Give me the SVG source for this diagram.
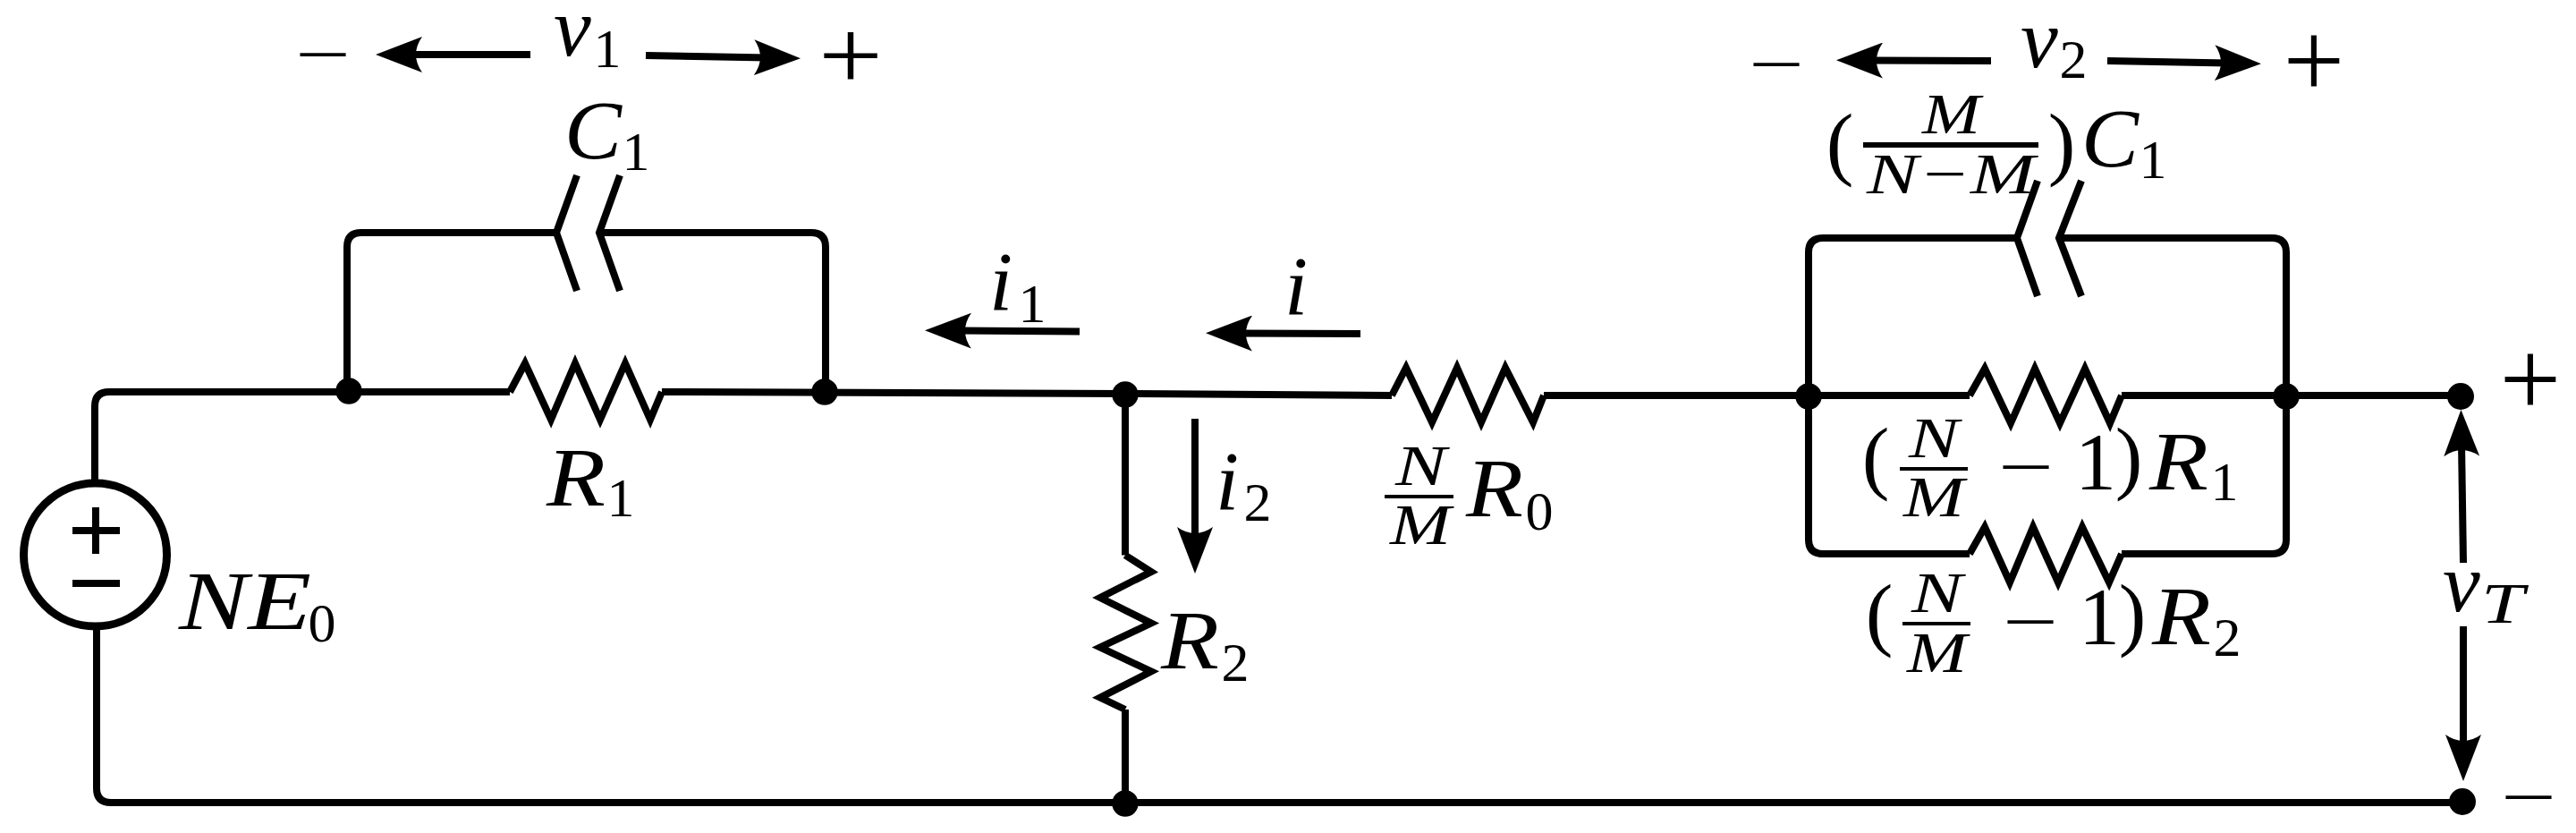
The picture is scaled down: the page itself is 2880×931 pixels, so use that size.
<svg xmlns="http://www.w3.org/2000/svg" width="2880" height="931" viewBox="0 0 2880 931">
<style>
.w{fill:none;stroke:#000;stroke-width:8;stroke-linejoin:miter}
.a{fill:none;stroke:#000;stroke-width:8;marker-end:url(#ah)}
.d{fill:#000}
text{font-family:"Liberation Serif","Times New Roman",serif;fill:#000}
.m{font-size:94px;font-style:italic}
.s{font-size:62px;text-anchor:middle}
.f{font-size:64px;font-style:italic}
.u{font-size:92px;text-anchor:middle}
.p{font-size:112px}
.q{font-size:122px;text-anchor:middle}
.n{font-size:72px}
.b{fill:#000}
</style>
<defs>
<marker id="ah" markerUnits="userSpaceOnUse" viewBox="0 0 52 40" markerWidth="52" markerHeight="40" refX="15" refY="20" orient="auto">
<path d="M52,20 L0,0 Q14,20 0,40 Z" fill="#000"/>
</marker>
</defs>
<rect width="2880" height="931" fill="#fff"/>
<g id="connectors">
<path class="w" d="M106,537 V454 Q106,438 122,438 H570"/>
<path class="w" d="M740,438 L1258,440 L1556,442"/>
<path class="w" d="M1726,442 H2202"/>
<path class="w" d="M2372,442 H2751"/>
<path class="w" d="M108,704 V881 Q108,897 124,897 L1258,897 H2753"/>
<path class="w" d="M1258,441 V620.5"/>
<path class="w" d="M1258,793 V897"/>
<path class="w" d="M388,437 V276 Q388,260 404,260 H622"/>
<path class="w" d="M670,260 H907 Q923,260 923,276 V438"/>
<path class="w" d="M2255,266 H2038 Q2022,266 2022,282 V603 Q2022,619 2038,619 H2202"/>
<path class="w" d="M2302,266 H2540 Q2556,266 2556,282 V603 Q2556,619 2540,619 H2372"/>
<path class="a" d="M593,61 H457"/>
<path class="a" d="M722,62 L858,64.500"/>
<path class="a" d="M2226,68 L2090,67.500"/>
<path class="a" d="M2356,68 L2491,70.500"/>
<path class="a" d="M1207,370.500 L1071,369.500"/>
<path class="a" d="M1521,373 L1385,372.500"/>
<path class="a" d="M1336,468 V604"/>
<path class="a" d="M2754,629 L2752,495"/>
<path class="a" d="M2754,700 V836"/>
</g>
<g id="source-NE0">
<circle cx="106.500" cy="620" r="80" fill="#fff" stroke="#000" stroke-width="9"/>
<rect class="b" x="81" y="589" width="53" height="8"/>
<rect class="b" x="103" y="567" width="8" height="52"/>
<rect class="b" x="81" y="648" width="53" height="8"/>
<text class="m" x="200" y="703" textLength="148" lengthAdjust="spacingAndGlyphs">NE</text>
<text class="s" x="360" y="717">0</text>
</g>
<g id="resistor-R1">
<polyline class="w" points="570,438 587,406 616,469 643,406 671,469 699,406 727,469 740,438"/>
<text class="m" x="611" y="565" textLength="66" lengthAdjust="spacingAndGlyphs">R</text>
<text class="s" x="694" y="577">1</text>
</g>
<g id="capacitor-C1">
<polyline class="w" points="645,196 622,260 645,325"/>
<polyline class="w" points="693,196 670,260 693,325"/>
<text class="m" x="631" y="177" textLength="64" lengthAdjust="spacingAndGlyphs">C</text>
<text class="s" x="711" y="190">1</text>
</g>
<g id="label-v1">
<text class="n" x="330" y="85" textLength="62" lengthAdjust="spacingAndGlyphs">−</text>
<text class="m" x="619" y="62">v</text>
<text class="s" x="679" y="75">1</text>
<text class="p" x="915" y="100" textLength="72" lengthAdjust="spacingAndGlyphs">+</text>
</g>
<g id="label-i1">
<text class="m" x="1106" y="346">i</text>
<text class="s" x="1154" y="360">1</text>
</g>
<g id="label-i">
<text class="m" x="1436" y="351">i</text>
</g>
<g id="label-i2">
<text class="m" x="1359" y="569">i</text>
<text class="s" x="1406" y="582">2</text>
</g>
<g id="resistor-R0">
<polyline class="w" points="1556,442 1572,411 1601,472 1629,411 1656,472 1683,411 1714,472 1726,442"/>
<text class="f" x="1560" y="542" textLength="57" lengthAdjust="spacingAndGlyphs">N</text>
<rect class="b" x="1548" y="553" width="77" height="4"/>
<text class="f" x="1554" y="608" textLength="68" lengthAdjust="spacingAndGlyphs">M</text>
<text class="m" x="1639" y="577" textLength="64" lengthAdjust="spacingAndGlyphs">R</text>
<text class="s" x="1721" y="592">0</text>
</g>
<g id="resistor-R2">
<polyline class="w" points="1258,620.500 1287,639 1230,668 1287,696.500 1230,723.500 1287,750.500 1230,779.600 1258,793"/>
<text class="m" x="1298" y="747" textLength="65" lengthAdjust="spacingAndGlyphs">R</text>
<text class="s" x="1381" y="761">2</text>
</g>
<g id="capacitor-C2">
<polyline class="w" points="2278,202 2255,266 2278,331"/>
<polyline class="w" points="2327,202 2302,266 2327,331"/>
<text class="u" x="2057" y="190">(</text>
<text class="f" x="2149" y="149" textLength="65" lengthAdjust="spacingAndGlyphs">M</text>
<rect class="b" x="2083" y="159" width="196" height="6"/>
<text class="f" x="2087" y="216" textLength="188" lengthAdjust="spacingAndGlyphs">N−M</text>
<text class="u" x="2305" y="190">)</text>
<text class="m" x="2327" y="186" textLength="64" lengthAdjust="spacingAndGlyphs">C</text>
<text class="s" x="2407" y="199">1</text>
</g>
<g id="label-v2">
<text class="n" x="1955" y="96" textLength="62" lengthAdjust="spacingAndGlyphs">−</text>
<text class="m" x="2259" y="75">v</text>
<text class="s" x="2318" y="87">2</text>
<text class="q" x="2587" y="109">+</text>
</g>
<g id="resistor-R3">
<polyline class="w" points="2202,442 2219,412 2248,473 2275,412 2303,473 2331,412 2359,473 2372,442"/>
<text class="u" x="2097" y="541">(</text>
<text class="f" x="2134" y="511" textLength="56" lengthAdjust="spacingAndGlyphs">N</text>
<rect class="b" x="2124" y="522" width="76" height="4"/>
<text class="f" x="2128" y="577" textLength="68" lengthAdjust="spacingAndGlyphs">M</text>
<text class="n" x="2234" y="546" textLength="62" lengthAdjust="spacingAndGlyphs">−</text>
<text class="u" x="2343" y="547">1</text>
<text class="u" x="2380" y="541">)</text>
<text class="m" x="2403" y="547" textLength="66" lengthAdjust="spacingAndGlyphs">R</text>
<text class="s" x="2487" y="559">1</text>
</g>
<g id="resistor-R4">
<polyline class="w" points="2202,619 2219,589 2247,651 2273,589 2301,651 2328,589 2358,651 2372,619"/>
<text class="u" x="2101" y="716">(</text>
<text class="f" x="2137" y="684" textLength="57" lengthAdjust="spacingAndGlyphs">N</text>
<rect class="b" x="2127" y="695" width="76" height="4"/>
<text class="f" x="2132" y="751" textLength="67" lengthAdjust="spacingAndGlyphs">M</text>
<text class="n" x="2239" y="719" textLength="62" lengthAdjust="spacingAndGlyphs">−</text>
<text class="u" x="2347" y="720">1</text>
<text class="u" x="2384" y="716">)</text>
<text class="m" x="2406" y="720" textLength="66" lengthAdjust="spacingAndGlyphs">R</text>
<text class="s" x="2490" y="733">2</text>
</g>
<g id="label-vT">
<text class="m" x="2731" y="683">v</text>
<text class="f" x="2774" y="696" textLength="48" lengthAdjust="spacingAndGlyphs">T</text>
<text class="q" x="2829" y="465">+</text>
<text class="n" x="2796" y="915" textLength="62" lengthAdjust="spacingAndGlyphs">−</text>
</g>
<g id="junctions">
<circle class="d" cx="390" cy="437" r="14.700"/>
<circle class="d" cx="922" cy="438" r="14.700"/>
<circle class="d" cx="1258" cy="441" r="14.700"/>
<circle class="d" cx="1258" cy="898" r="14.700"/>
<circle class="d" cx="2022" cy="443" r="14.700"/>
<circle class="d" cx="2556" cy="443" r="14.700"/>
<circle class="d" cx="2751" cy="443" r="15"/>
<circle class="d" cx="2753" cy="896" r="15"/>
</g>
</svg>
